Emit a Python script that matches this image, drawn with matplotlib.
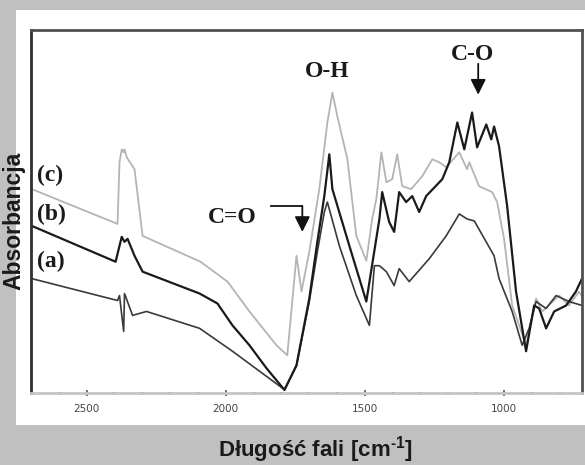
import numpy as np
import matplotlib
matplotlib.use("Agg")
from matplotlib import pyplot as plt
from matplotlib.patches import Rectangle

plt.rcParams["mathtext.fontset"] = "custom"
plt.rcParams["mathtext.rm"] = "Liberation Sans:bold"
plt.rcParams["mathtext.it"] = "Liberation Sans:bold"
plt.rcParams["mathtext.bf"] = "Liberation Sans:bold"

# wavenumber [cm-1] / absorbance (arbitrary units)
wn_c = [2697, 2389, 2382, 2374, 2367, 2364, 2356, 2328, 2299, 2091, 1994, 1915, 1818, 1779,
        1746, 1728, 1700, 1664, 1635, 1617, 1599, 1563, 1531, 1495, 1474, 1459, 1441, 1423,
        1402, 1384, 1366, 1334, 1294, 1258, 1233, 1208, 1161, 1133, 1125, 1090, 1043, 1025,
        1000, 971, 921, 885, 863, 802, 767, 731, 720]
abs_c = [2.03, 1.68, 2.30, 2.43, 2.40, 2.43, 2.35, 2.23, 1.56, 1.30, 1.10, 0.80, 0.46, 0.36,
         1.36, 1.00, 1.40, 2.03, 2.70, 3.00, 2.76, 2.33, 1.56, 1.31, 1.73, 1.93, 2.40, 2.10,
         2.13, 2.38, 2.06, 2.03, 2.16, 2.33, 2.30, 2.25, 2.40, 2.23, 2.30, 2.06, 2.00, 1.90,
         1.53, 0.86, 0.46, 0.93, 0.80, 0.96, 0.86, 1.00, 0.95]

wn_b = [2697, 2396, 2374, 2364, 2353, 2328, 2299, 2094, 2030, 1976, 1915, 1854, 1789, 1746,
        1700, 1671, 1646, 1628, 1617, 1556, 1495, 1448, 1438, 1413, 1395, 1377, 1352, 1330,
        1305, 1280, 1222, 1197, 1168, 1143, 1115, 1097, 1064, 1046, 1036, 1018, 989, 957,
        921, 892, 874, 849, 820, 777, 742, 720]
abs_b = [1.66, 1.30, 1.55, 1.50, 1.53, 1.36, 1.20, 0.98, 0.88, 0.66, 0.46, 0.23, 0.01, 0.26,
         0.93, 1.50, 1.96, 2.38, 2.03, 1.46, 0.90, 1.73, 2.00, 1.70, 1.60, 2.00, 1.90, 1.96,
         1.80, 1.96, 2.13, 2.30, 2.70, 2.43, 2.80, 2.45, 2.68, 2.53, 2.66, 2.46, 1.86, 1.00,
         0.40, 0.86, 0.83, 0.63, 0.80, 0.86, 1.00, 1.13]

wn_a = [2697, 2389, 2382, 2367, 2364, 2335, 2285, 2094, 1976, 1797, 1789, 1746, 1700, 1671,
        1646, 1635, 1592, 1531, 1484, 1466, 1448, 1423, 1395, 1377, 1341, 1269, 1208, 1161,
        1133, 1107, 1036, 1018, 971, 935, 910, 885, 849, 813, 767, 720]
abs_a = [1.13, 0.91, 0.96, 0.60, 0.98, 0.76, 0.80, 0.63, 0.40, 0.03, 0.02, 0.25, 0.90, 1.40,
         1.80, 1.90, 1.46, 0.96, 0.66, 1.26, 1.26, 1.20, 1.06, 1.23, 1.10, 1.33, 1.56, 1.78,
         1.73, 1.71, 1.36, 1.13, 0.80, 0.46, 0.63, 0.90, 0.83, 0.96, 0.90, 0.86]

xticks = [2500, 2000, 1500, 1000]

fig = plt.figure(figsize=(5.85, 4.65), dpi=100, facecolor="#c0c0c0")
fig.patches.append(Rectangle((16 / 585, 40 / 465), 1, 415 / 465, transform=fig.transFigure,
                             facecolor="white", edgecolor="none", zorder=-1))

ax = fig.add_axes([31 / 585, 72 / 465, 551 / 585, 363 / 465])
ax.set_zorder(1)
ax.plot(wn_c, abs_c, color="#b4b4b4", lw=1.3)
ax.plot(wn_a, abs_a, color="#3a3a3a", lw=1.2)
ax.plot(wn_b, abs_b, color="#1a1a1a", lw=1.6)

ax.set_xlim(2700, 720)
ax.set_ylim(-0.02, 3.63)
ax.set_yticks([])
ax.set_xticks(xticks)
ax.set_xticks(np.arange(800, 2700, 100), minor=True)
ax.tick_params(axis="x", which="major", direction="inout", length=4, width=1.2,
               color="#555555", labelsize=7.5, labelcolor="#444444", pad=6)
ax.tick_params(axis="x", which="minor", direction="inout", length=2, width=1.5, color="#333333")

for side, col in [("left", "#303030"), ("top", "#505050"), ("right", "#505050"), ("bottom", "#c4c4c4")]:
    ax.spines[side].set_color(col)
    ax.spines[side].set_linewidth(2)

serif = dict(family="Liberation Serif", weight="bold", fontsize=17, color="#1a1a1a")
ax.text(2679, 2.17, "(c)", ha="left", va="center", **serif)
ax.text(2679, 1.78, "(b)", ha="left", va="center", **serif)
ax.text(2679, 1.30, "(a)", ha="left", va="center", **serif)
ax.text(1976, 1.74, "C=O", ha="center", va="center", **serif)
ax.text(1635, 3.21, "O-H", ha="center", va="center", **serif)
ax.text(1115, 3.38, "C-O", ha="center", va="center", **serif)

arrow = dict(arrowstyle="-|>", color="#111111", lw=1.3, mutation_scale=23, shrinkA=0, shrinkB=0)
ax.plot([1836, 1725], [1.86, 1.86], color="#111111", lw=1.3)
ax.annotate("", xy=(1725, 1.60), xytext=(1725, 1.86), arrowprops=arrow)
ax.annotate("", xy=(1093, 2.98), xytext=(1093, 3.29), arrowprops=arrow)

sans = dict(family="Liberation Sans", weight="bold", color="#1a1a1a")
fig.text(14 / 585, 1 - 221 / 465, "Absorbancja", rotation=90, ha="center", va="center",
         fontsize=16.5, **sans)
fig.text(315 / 585, 1 - 450 / 465, "Długość fali [cm$^{\\text{-1}}$]", ha="center", va="center",
         fontsize=16, **sans)

fig.savefig("out.png", dpi=100, facecolor=fig.get_facecolor())
